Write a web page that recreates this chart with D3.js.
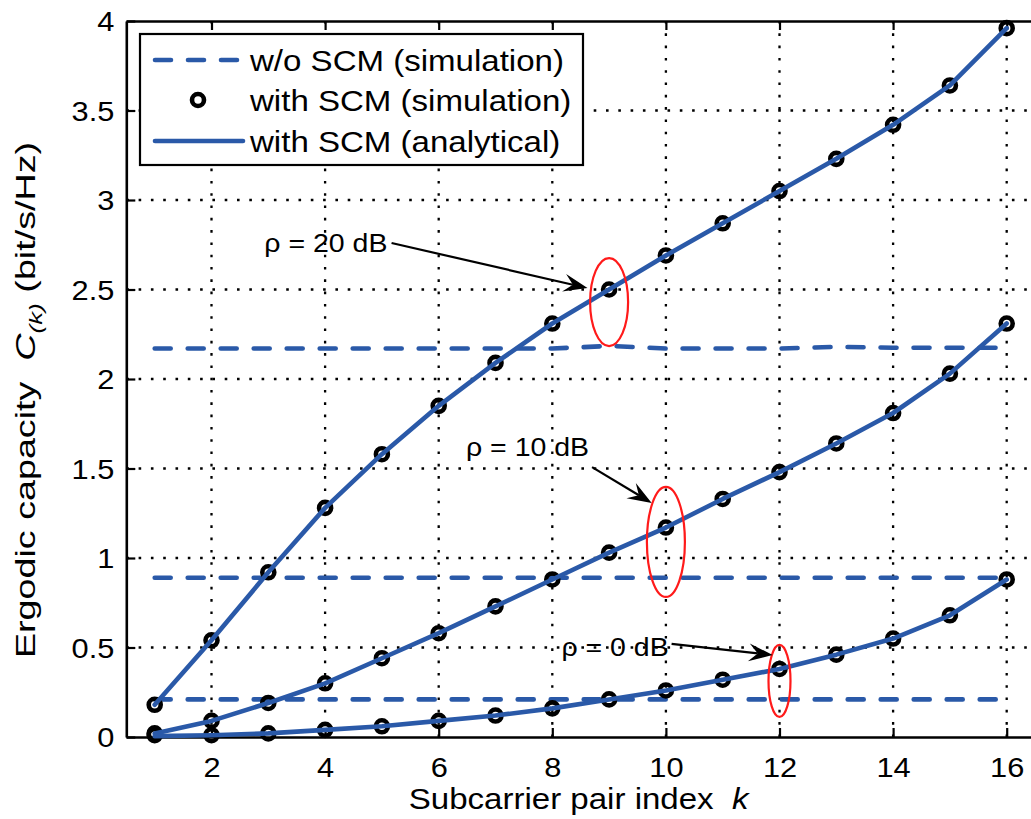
<!DOCTYPE html>
<html>
<head>
<meta charset="utf-8">
<script src="https://cdn.jsdelivr.net/npm/d3@7"></script>
<style>
  html, body { margin: 0; padding: 0; background: #fff; }
  svg { display: block; }
  text { font-family: "Liberation Sans", Arial, Helvetica, sans-serif; fill: #000; white-space: pre; }
</style>
</head>
<body>
<svg id="chart" width="1031" height="819"></svg>
<script>
// ---------------- DATA ----------------
const subcarrierK = [1,2,3,4,5,6,7,8,9,10,11,12,13,14,15,16];

// with SCM (simulation) - markers
const simSCM20 = [0.18,0.54,0.92,1.28,1.58,1.85,2.09,2.31,2.50,2.69,2.87,3.05,3.23,3.42,3.64,3.96];
const simSCM10 = [0.02,0.09,0.19,0.30,0.44,0.58,0.73,0.88,1.03,1.17,1.33,1.48,1.64,1.81,2.03,2.31];
const simSCM0  = [0.01,0.01,0.02,0.04,0.06,0.09,0.12,0.16,0.21,0.26,0.32,0.38,0.46,0.55,0.68,0.88];

// with SCM (analytical) - solid lines
const anaSCM20 = [0.18,0.54,0.92,1.28,1.58,1.85,2.09,2.31,2.50,2.69,2.87,3.05,3.23,3.42,3.64,3.96];
const anaSCM10 = [0.02,0.09,0.19,0.30,0.44,0.58,0.73,0.88,1.03,1.17,1.33,1.48,1.64,1.81,2.03,2.31];
const anaSCM0  = [0.005,0.01,0.02,0.04,0.06,0.09,0.12,0.16,0.21,0.26,0.32,0.38,0.46,0.55,0.68,0.88];

// w/o SCM (simulation) - dashed lines
const woSCM20 = [2.17,2.17,2.17,2.17,2.17,2.17,2.17,2.17,2.185,2.17,2.17,2.17,2.18,2.175,2.175,2.175];
const woSCM10 = [0.89,0.89,0.89,0.89,0.89,0.89,0.89,0.89,0.89,0.89,0.89,0.89,0.89,0.89,0.89,0.89];
const woSCM0  = [0.21,0.21,0.21,0.21,0.21,0.21,0.21,0.21,0.21,0.21,0.21,0.21,0.21,0.21,0.21,0.21];

const xTicks = [2,4,6,8,10,12,14,16];
const yTicks = [0,0.5,1,1.5,2,2.5,3,3.5,4];
const yTickLabels = ["0","0.5","1","1.5","2","2.5","3","3.5","4"];

const legendLabels = ["w/o SCM (simulation)", "with SCM (simulation)", "with SCM (analytical)"];

// annotations (in data coordinates)
const annotations = [
  { label: "ρ = 20 dB", tx: 2.93, ty: 2.76, ax: 5.17, ay: 2.76, hx: 8.62, hy: 2.508, ek: 9,  ec: 2.43, erx: 19, ery: 44 },
  { label: "ρ = 10 dB", tx: 6.48, ty: 1.62, ax: 8.70, ay: 1.508, hx: 9.75, hy: 1.307, ek: 10, ec: 1.09, erx: 19, ery: 55 },
  { label: "ρ = 0 dB",  tx: 8.16, ty: 0.503, ax: 10.10, ay: 0.52, hx: 11.88, hy: 0.458, ek: 12, ec: 0.313, erx: 11, ery: 36 }
];

// ---------------- LAYOUT ----------------
const blue = "#2a59a8";
const SX = 1.14; // horizontal stretch of text in reference
const svg = d3.select("#chart");

const x = d3.scaleLinear().domain([0.5, 16.5]).range([126.3, 1035.1]);
const y = d3.scaleLinear().domain([0, 4]).range([737, 21]);

const [xL, xR] = x.range();
const [yB, yT] = y.range();

// grid
const grid = svg.append("g").attr("stroke", "#000").attr("stroke-width", 2.3)
  .attr("stroke-dasharray", "2.6,9.7").attr("fill", "none");
grid.selectAll("line.v").data(xTicks).join("line").attr("class", "v")
  .attr("x1", d => x(d)).attr("x2", d => x(d)).attr("y1", yB).attr("y2", yT);
grid.selectAll("line.h").data(yTicks.slice(1, -1)).join("line").attr("class", "h")
  .attr("y1", d => y(d)).attr("y2", d => y(d)).attr("x1", xL).attr("x2", xR);

// axes
const axB = svg.append("g").attr("transform", `translate(0,${yB})`)
  .call(d3.axisBottom(x).tickValues(xTicks).tickSize(-9).tickSizeOuter(0));
const axT = svg.append("g").attr("transform", `translate(0,${yT})`)
  .call(d3.axisTop(x).tickValues(xTicks).tickSize(-9).tickSizeOuter(0).tickFormat(""));
const axL = svg.append("g").attr("transform", `translate(${xL},0)`)
  .call(d3.axisLeft(y).tickValues(yTicks).tickSize(-9).tickSizeOuter(0)
    .tickFormat((d, i) => yTickLabels[i]));

[axB, axT, axL].forEach(a => {
  a.selectAll("path.domain").attr("stroke", "#000").attr("stroke-width", 2.6);
  a.selectAll(".tick line").attr("stroke", "#000").attr("stroke-width", 2.2);
});
axB.selectAll(".tick text").attr("y", null).attr("dy", null)
  .attr("transform", `translate(0,40) scale(${SX},1)`)
  .style("font-size", "27px").attr("fill", "#000");
axL.selectAll(".tick text").attr("x", null).attr("dy", "0.36em")
  .attr("transform", `translate(-12,0) scale(${SX},1)`)
  .style("font-size", "27px").attr("fill", "#000");
svg.selectAll(".tick text").style("font-family", '"Liberation Sans", Arial, sans-serif');

// series
const seriesSets = [
  { sim: simSCM20, ana: anaSCM20, wo: woSCM20 },
  { sim: simSCM10, ana: anaSCM10, wo: woSCM10 },
  { sim: simSCM0,  ana: anaSCM0,  wo: woSCM0 }
];
const lineGen = d3.line().x((d, i) => x(subcarrierK[i])).y(d => y(d));

const plot = svg.append("g");
seriesSets.forEach(s => {
  plot.append("path").datum(s.wo).attr("d", lineGen)
    .attr("fill", "none").attr("stroke", blue).attr("stroke-width", 4.6)
    .attr("stroke-linecap", "round").attr("stroke-dasharray", "16,17");
});
seriesSets.forEach(s => {
  plot.append("g").selectAll("circle").data(s.sim).join("circle")
    .attr("cx", (d, i) => x(subcarrierK[i])).attr("cy", d => y(d))
    .attr("r", 6).attr("fill", "none").attr("stroke", "#000").attr("stroke-width", 4.6);
});
seriesSets.forEach(s => {
  plot.append("path").datum(s.ana).attr("d", lineGen)
    .attr("fill", "none").attr("stroke", blue).attr("stroke-width", 4.6)
    .attr("stroke-linejoin", "round").attr("stroke-linecap", "round");
});

// annotations
function stretchedText(g, px, py, str, size, anchor) {
  return g.append("text")
    .attr("transform", `translate(${px},${py}) scale(${SX},1)`)
    .attr("text-anchor", anchor || "start")
    .style("font-size", size + "px")
    .text(str);
}
const ann = svg.append("g");
annotations.forEach(a => {
  ann.append("ellipse").attr("cx", x(a.ek)).attr("cy", y(a.ec))
    .attr("rx", a.erx).attr("ry", a.ery)
    .attr("fill", "none").attr("stroke", "#ff1a1a").attr("stroke-width", 2.2);
  stretchedText(ann, x(a.tx), y(a.ty) + 9, a.label, 25);
  const x1 = x(a.ax), y1 = y(a.ay), x2 = x(a.hx), y2 = y(a.hy);
  const ang = Math.atan2(y2 - y1, x2 - x1);
  const L = 24, W = 9, N = 15;
  const ux = Math.cos(ang), uy = Math.sin(ang), nx = -uy, ny = ux;
  ann.append("line").attr("x1", x1).attr("y1", y1)
    .attr("x2", x2 - ux * N).attr("y2", y2 - uy * N)
    .attr("stroke", "#000").attr("stroke-width", 2.2);
  const pts = [
    [x2, y2],
    [x2 - ux * L + nx * W, y2 - uy * L + ny * W],
    [x2 - ux * N, y2 - uy * N],
    [x2 - ux * L - nx * W, y2 - uy * L - ny * W]
  ];
  ann.append("polygon").attr("points", pts.map(p => p.join(",")).join(" ")).attr("fill", "#000");
});

// legend
const lg = svg.append("g");
lg.append("rect").attr("x", 140).attr("y", 34).attr("width", 443).attr("height", 131)
  .attr("fill", "#fff").attr("stroke", "#000").attr("stroke-width", 2.2);
const rowY = [60, 100, 141];
lg.append("line").attr("x1", 155).attr("x2", 243).attr("y1", rowY[0]).attr("y2", rowY[0])
  .attr("stroke", blue).attr("stroke-width", 4.6).attr("stroke-linecap", "round")
  .attr("stroke-dasharray", "16,17");
lg.append("circle").attr("cx", 198).attr("cy", rowY[1]).attr("r", 6)
  .attr("fill", "none").attr("stroke", "#000").attr("stroke-width", 4.6);
lg.append("line").attr("x1", 155).attr("x2", 243).attr("y1", rowY[2]).attr("y2", rowY[2])
  .attr("stroke", blue).attr("stroke-width", 4.6).attr("stroke-linecap", "round");
legendLabels.forEach((t, i) => stretchedText(lg, 250, rowY[i] + 10.5, t, 29));

// axis labels
const xl = svg.append("text")
  .attr("transform", `translate(${(xL + 1031) / 2},809) scale(${SX},1)`)
  .attr("text-anchor", "middle").style("font-size", "29px");
xl.append("tspan").text("Subcarrier pair index\u00A0\u00A0");
xl.append("tspan").style("font-style", "italic").text("k");

const yl = svg.append("text")
  .attr("transform", `translate(35,400) rotate(-90) scale(1.3,0.95)`)
  .attr("text-anchor", "middle").style("font-size", "29px");
yl.append("tspan").text("Ergodic capacity\u00A0\u00A0");
yl.append("tspan").style("font-style", "italic").text("C");
yl.append("tspan").attr("dy", 7).style("font-size", "20px").style("font-style", "italic").text("(k)");
yl.append("tspan").attr("dy", -7).text("\u00A0(bit/s/Hz)");
</script>
</body>
</html>
